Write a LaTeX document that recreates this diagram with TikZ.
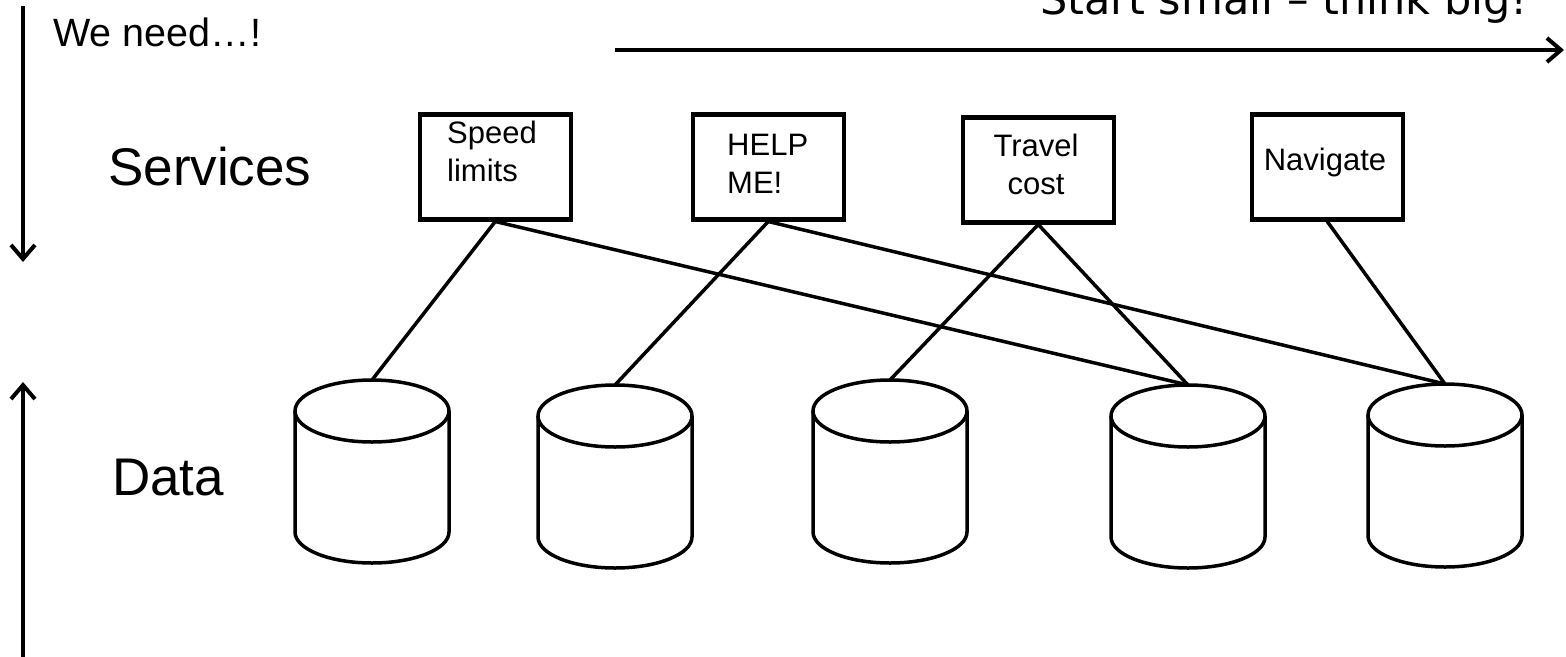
\documentclass[tikz,border=0pt]{standalone}
\usepackage{fontspec}
\setmainfont{Liberation Sans}
\newfontfamily\dejavu{DejaVu Sans}
\usetikzlibrary{arrows.meta}
\tikzset{
  svcbox/.style={draw, line width=4.5pt, minimum width=151pt, minimum height=105pt, inner sep=0pt, anchor=north west},
  link/.style={line width=3.5pt},
  cylline/.style={line width=3.5pt},
  axisarrow/.style={line width=4pt, -{Straight Barb[length=14pt,width=24pt]}},
  boxlbl/.style={inner sep=0pt, font=\fontsize{31}{38}\selectfont},
  biglbl/.style={inner sep=0pt, anchor=base west, font=\fontsize{53}{60}\selectfont},
  dbcyl/.pic={
    \draw[cylline] (-77,0) -- (-77,121) arc[start angle=180, end angle=0, x radius=77, y radius=31] -- (77,0);
    \draw[cylline] (0,0) ellipse[x radius=77, y radius=31];
    \coordinate (-top) at (0,-31);
  }
}
\begin{document}
\begin{tikzpicture}[x=1pt,y=-1pt]
  \useasboundingbox (0,0) rectangle (1566,656);
  \clip (0,0) rectangle (1566,656);

  % axes
  \coordinate (dtop) at (23,6);
  \coordinate (dbot) at (23,262);
  \draw[axisarrow] (dtop) -- (dbot);
  \coordinate (ubot) at (23,660);
  \coordinate (utop) at (23,382);
  \draw[axisarrow] (ubot) -- (utop);
  \coordinate (hl) at (615,50);
  \coordinate (hr) at (1564,50);
  \draw[axisarrow] (hl) -- (hr);

  % texts
  \node[inner sep=0pt, anchor=base west, font=\fontsize{39.5}{46}\selectfont] (weneed) at (53,46) {We need…!};
  \node[inner sep=0pt, anchor=base west, font=\dejavu\fontsize{43}{50}\selectfont] (startsmall) at (1040,14) {Start small – think big!};
  \node[biglbl] (services) at (108,185) {Services};
  \node[biglbl] (data) at (112,495) {Data};

  % service boxes
  \node[svcbox] (speed) at (417.5,112) {};
  \node[svcbox] (help) at (690.5,112) {};
  \node[svcbox] (travel) at (960.5,115) {};
  \node[svcbox] (nav) at (1249.5,112) {};

  \node[boxlbl, anchor=north west, align=left] (speedlbl) at (447,120.5) {Speed\\limits};
  \node[boxlbl, anchor=north west, align=left] (helplbl) at (727,133.8) {HELP\\ME!};
  \node[boxlbl, anchor=north, align=center] (travellbl) at (1036,133.8) {Travel\\cost};
  \node[boxlbl, anchor=base] (navlbl) at (1325,170) {Navigate};

  % data cylinders
  \pic (d1) at (372,411) {dbcyl};
  \pic (d2) at (615,416) {dbcyl};
  \pic (d3) at (890,411) {dbcyl};
  \pic (d4) at (1188,416) {dbcyl};
  \pic (d5) at (1445,415) {dbcyl};

  % connectors
  \draw[link] (speed.south) -- (d1-top);
  \draw[link] (speed.south) -- (d4-top);
  \draw[link] (help.south) -- (d2-top);
  \draw[link] (help.south) -- (d5-top);
  \draw[link] (travel.south) -- (d3-top);
  \draw[link] (travel.south) -- (d4-top);
  \draw[link] (nav.south) -- (d5-top);
\end{tikzpicture}
\end{document}
